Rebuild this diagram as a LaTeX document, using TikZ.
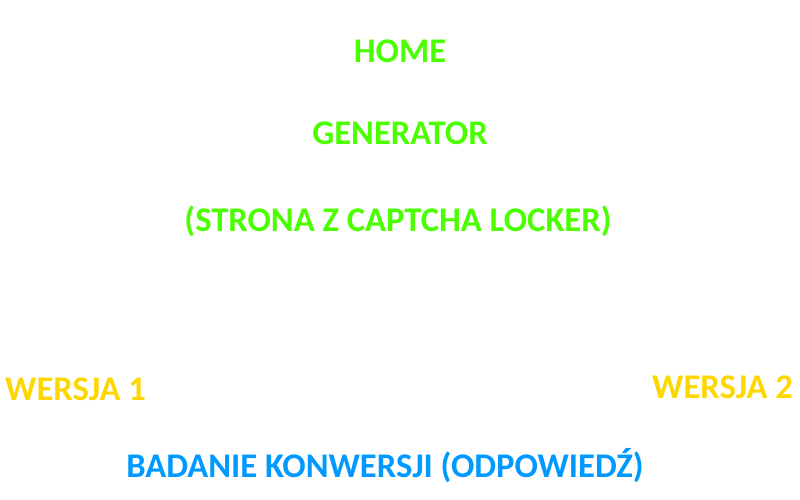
\documentclass[tikz,border=0pt]{standalone}
\usepackage{fontspec}
\setmainfont{Carlito}
\definecolor{cgreen}{HTML}{4CFF00}
\definecolor{cyellow}{HTML}{FFD700}
\definecolor{cblue}{HTML}{0099FF}
\begin{document}
\begin{tikzpicture}[x=1pt,y=-1pt,
  lbl/.style={inner sep=0pt,anchor=base,font=\fontsize{34.6}{38}\selectfont\bfseries}]
\fill[white] (0,0) rectangle (800,500);
\useasboundingbox (0,0) rectangle (800,500);
\node[lbl,text=cgreen] (home) at (400,63) {HOME};
\node[lbl,text=cgreen] (gen) at (400,145) {GENERATOR};
\node[lbl,text=cgreen] (strona) at (398,231) {(STRONA Z CAPTCHA LOCKER)};
\node[lbl,text=cyellow,anchor=base west] (w1) at (5,400) {WERSJA 1};
\node[lbl,text=cyellow,anchor=base east] (w2) at (793,398) {WERSJA 2};
\node[lbl,text=cblue] (bad) at (385,477) {BADANIE KONWERSJI (ODPOWIEDŹ)};
\end{tikzpicture}
\end{document}
